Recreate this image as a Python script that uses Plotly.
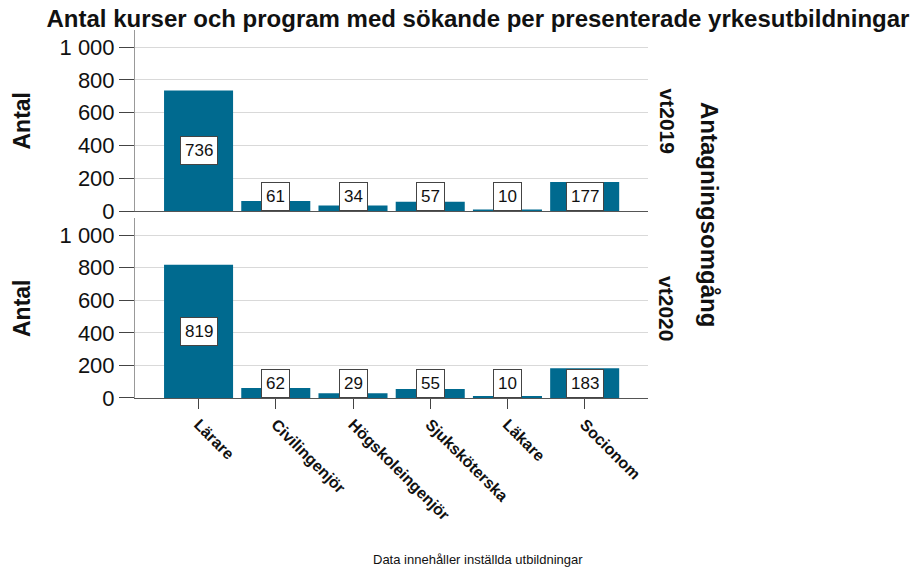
import plotly.graph_objects as go

categories = ["Lärare", "Civilingenjör", "Högskoleingenjör", "Sjuksköterska", "Läkare", "Socionom"]
vt2019 = [736, 61, 34, 57, 10, 177]
vt2020 = [819, 62, 29, 55, 10, 183]
rounds = ["vt2019", "vt2020"]
ytickvals = [0, 200, 400, 600, 800, 1000]
yticktext = ["0", "200", "400", "600", "800", "1 000"]

BAR = "#006a8f"
FONT = "Liberation Sans, Arial, sans-serif"

fig = go.Figure()
series = [vt2019, vt2020]
yaxes = ["y", "y2"]
xaxes = ["x", "x2"]
for vals, xa, ya in zip(series, xaxes, yaxes):
    fig.add_trace(go.Bar(x=categories, y=vals, marker=dict(color=BAR, line=dict(width=0)),
                         xaxis=xa, yaxis=ya, showlegend=False, hoverinfo="x+y"))
    for c, v in zip(categories, vals):
        fig.add_annotation(x=c, y=max(v / 2, 88), xref=xa, yref=ya, text=str(v), showarrow=False,
                           xanchor="center", yanchor="middle",
                           bgcolor="white", bordercolor="#444", borderwidth=1, borderpad=4,
                           font=dict(size=17, color="#111", family=FONT))

xr = [-0.823, 5.82]
yr = [0, 1105]
common_y = dict(range=yr, tickvals=ytickvals, ticktext=yticktext, showgrid=True, gridcolor="#d9d9d9",
                gridwidth=1, showline=True, linecolor="#999", ticks="outside", ticklen=15, tickcolor="#444",
                tickfont=dict(size=22, color="#111", family=FONT), zeroline=False, automargin=False)

L, R, T, B = 135, 264, 30, 171
PW = 912 - L - R
PH = 569 - T - B
cx = (478 - L) / PW

fig.update_layout(
    width=912, height=569,
    margin=dict(l=L, r=R, t=T, b=B, autoexpand=False),
    plot_bgcolor="white", paper_bgcolor="white",
    bargap=0.106,
    title=dict(text="<b>Antal kurser och program med sökande per presenterade yrkesutbildningar</b>",
               x=cx, xref="paper", xanchor="center", y=1 - 19 / 569, yref="container",
               yanchor="middle", font=dict(size=24, color="#111", family=FONT)),
    xaxis=dict(domain=[0, 1], anchor="y", range=xr, showticklabels=False, showline=True, linecolor="#555",
               ticks="", showgrid=False, automargin=False),
    yaxis=dict(domain=[0.508, 1], anchor="x", **common_y),
    xaxis2=dict(domain=[0, 1], anchor="y2", range=xr, showline=True, linecolor="#555", ticks="outside",
                ticklen=10, tickcolor="#444", tickangle=45, showgrid=False, automargin=False,
                tickfont=dict(size=16, color="#111", family=FONT, weight="bold")),
    yaxis2=dict(domain=[0, 0.489], anchor="x2", **common_y),
)

for yc in [0.754, 0.2445]:
    fig.add_annotation(x=0, y=yc, xref="paper", yref="paper", xshift=22 - L, text="<b>Antal</b>",
                       xanchor="center", yanchor="middle",
                       showarrow=False, textangle=-90, font=dict(size=23, color="#111", family=FONT))

for name, yc in zip(rounds, [0.754, 0.2445]):
    fig.add_annotation(x=1.0, y=yc, xref="paper", yref="paper", xshift=19, text="<b>" + name + "</b>",
                       xanchor="center", yanchor="middle",
                       showarrow=False, textangle=90, font=dict(size=21, color="#111", family=FONT))

fig.add_annotation(x=1.0, y=0.5, xref="paper", yref="paper", xshift=62, text="<b>Antagningsomgång</b>",
                   xanchor="center", yanchor="middle",
                   showarrow=False, textangle=90, font=dict(size=24, color="#111", family=FONT))

fig.add_annotation(x=cx, y=0, xref="paper", yref="paper", yshift=-(559 - (569 - B)),
                   xanchor="center", yanchor="middle",
                   text="Data innehåller inställda utbildningar", showarrow=False,
                   font=dict(size=13, color="#111", family=FONT))

fig.write_html("out.html", config={"displayModeBar": False},
               post_script="document.body.style.margin='0';document.body.style.overflow='hidden';")
